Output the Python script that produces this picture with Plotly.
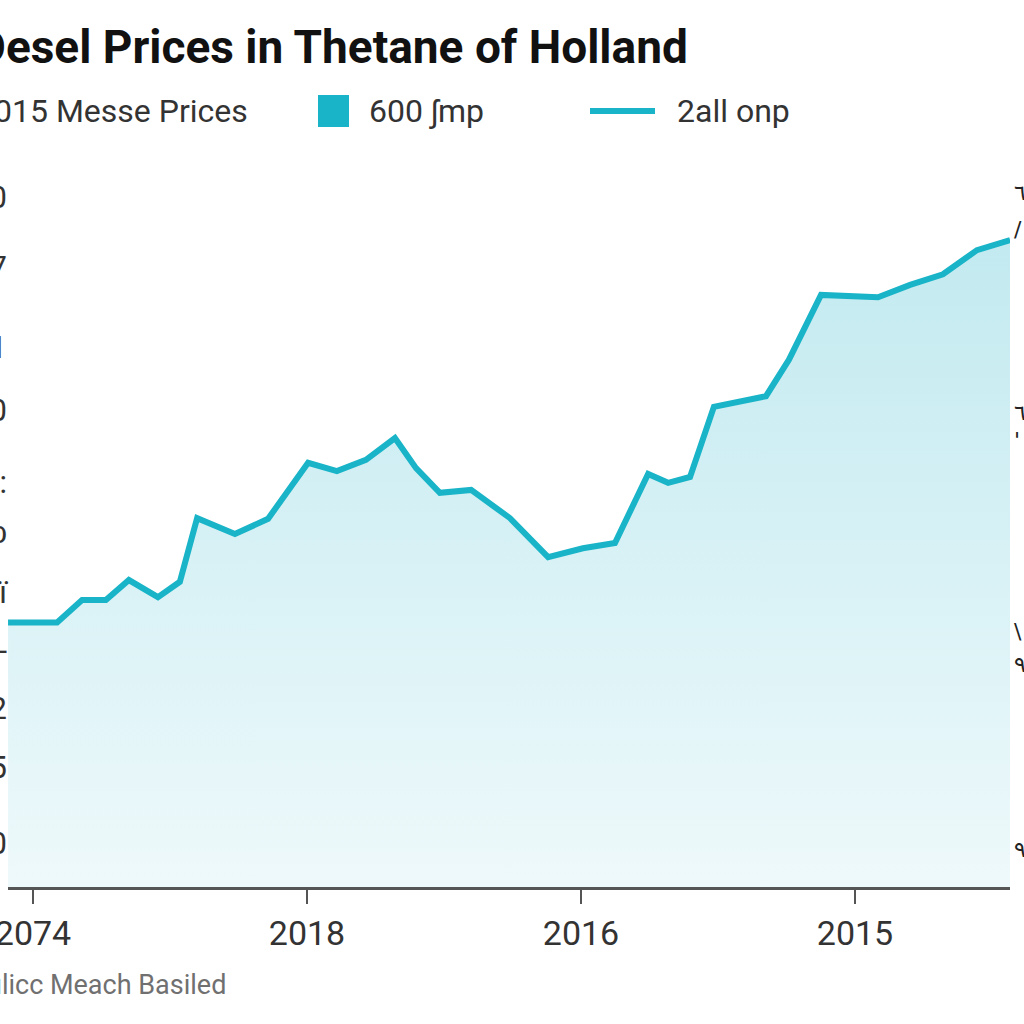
import plotly.graph_objects as go

# ---- data ----
x_vals = [-0.91, 0.88, 1.79, 2.66, 3.50, 4.56, 5.36, 5.99, 7.37, 8.58, 10.04, 11.09,
          12.15, 13.21, 13.98, 14.85, 15.99, 17.41, 18.80, 20.07, 21.24, 22.45, 23.18,
          23.98, 24.85, 26.75, 27.59, 28.76, 30.84, 32.01, 33.21, 34.45, 35.66]
y_vals = [44.9, 44.9, 48.7, 48.7, 52.1, 49.2, 51.8, 62.6, 59.9, 62.5, 72.0, 70.6,
          72.5, 76.2, 71.1, 66.9, 67.4, 62.6, 56.0, 57.5, 58.4, 70.1, 68.6,
          69.6, 81.5, 83.3, 89.5, 100.5, 100.1, 102.2, 104.0, 108.1, 109.8]

x_tick_vals = [0, 10, 20, 30]
x_tick_text = ["2074", "2018", "2016", "2015"]

y_tick_vals = [117.1, 105.2, 91.7, 81.0, 68.7, 60.3, 50.1, 40.2, 30.4, 20.4, 7.5]
y_tick_text = ["10", "17", "21", "10", "1:", "1ↄ", "1ï", "1-", "12", "15", "10"]

right_vals = [117.8, 111.6, 80.6, 75.8, 43.3, 37.8, 6.3]
right_text = ["٦", "/", "٦", "'", "\\", "٩", "٩"]

title_text = "Desel Prices in Thetane of Holland"
legend_texts = ["2015 Messe Prices", "600 ʃmp", "2all onp"]
footer_text = "ulicc Meach Basiled"

# ---- style ----
FONT = "Roboto, Liberation Sans, sans-serif"
TEAL = "#19b4c7"
X_RANGE = [-0.912, 35.657]
Y_RANGE = [0, 120]

fig = go.Figure()
fig.add_trace(go.Scatter(
    x=x_vals, y=y_vals, mode="lines",
    line=dict(color=TEAL, width=6),
    fill="tozeroy",
    fillgradient=dict(type="vertical", start=0, stop=110,
                      colorscale=[[0, "#eef9fb"], [1, "#c2eaf0"]]),
    showlegend=False, hoverinfo="skip",
))

W, H = 1024, 1024
ML, MR, MT, MB = 8, 14, 180, 137
PW, PH = W - ML - MR, H - MT - MB

def px(xp):
    return (xp - ML) / PW

def py(yp):
    return (H - MB - yp) / PH

annotations = [
    dict(text="<b>" + title_text + "</b>", x=px(690), y=py(47), xref="paper", yref="paper",
         xanchor="right", yanchor="middle", showarrow=False,
         font=dict(family=FONT, size=46, color="#111111")),
    dict(text=legend_texts[0], x=px(250), y=py(111), xref="paper", yref="paper",
         xanchor="right", yanchor="middle", showarrow=False,
         font=dict(family=FONT, size=32, color="#333333")),
    dict(text=legend_texts[1], x=px(367), y=py(111), xref="paper", yref="paper",
         xanchor="left", yanchor="middle", showarrow=False,
         font=dict(family=FONT, size=32, color="#333333")),
    dict(text=legend_texts[2], x=px(675), y=py(111), xref="paper", yref="paper",
         xanchor="left", yanchor="middle", showarrow=False,
         font=dict(family=FONT, size=32, color="#333333")),
    dict(text=footer_text, x=px(228), y=py(985), xref="paper", yref="paper",
         xanchor="right", yanchor="middle", showarrow=False,
         font=dict(family=FONT, size=27, color="#707070")),
]
for v, t in zip(right_vals, right_text):
    annotations.append(dict(text=t, x=px(1012), y=v, xref="paper", yref="y",
                            xanchor="left", yanchor="middle", showarrow=False,
                            font=dict(family="DejaVu Sans, sans-serif", size=22, color="#222222")))

shapes = [
    dict(type="rect", xref="paper", yref="paper", x0=px(318), x1=px(349),
         y0=py(127), y1=py(95), fillcolor=TEAL, line=dict(width=0)),
    dict(type="line", xref="paper", yref="paper", x0=px(590), x1=px(655),
         y0=py(111), y1=py(111), line=dict(color=TEAL, width=6)),
]

fig.update_layout(
    width=W, height=H,
    margin=dict(l=ML, r=MR, t=MT, b=MB, autoexpand=False),
    paper_bgcolor="white", plot_bgcolor="white",
    annotations=annotations, shapes=shapes,
    xaxis=dict(range=X_RANGE, tickvals=x_tick_vals, ticktext=x_tick_text,
               showgrid=False, zeroline=False, showline=True, linecolor="#555555",
               linewidth=3, ticks="outside", ticklen=14, tickwidth=1.5,
               tickcolor="#555555", automargin=False, ticklabeloverflow="allow",
               tickfont=dict(family=FONT, size=34, color="#333333")),
    yaxis=dict(range=Y_RANGE, tickvals=y_tick_vals, ticktext=y_tick_text,
               showgrid=False, zeroline=False, showline=False, ticks="",
               automargin=False, ticklabeloverflow="allow",
               tickfont=dict(family=FONT, size=31, color="#333333")),
    showlegend=False,
)

# remove the default 8px body margin so the figure fills the window exactly
fig.write_html("out.html", config={"displayModeBar": False, "staticPlot": True},
               post_script="document.body.style.margin='0';")
